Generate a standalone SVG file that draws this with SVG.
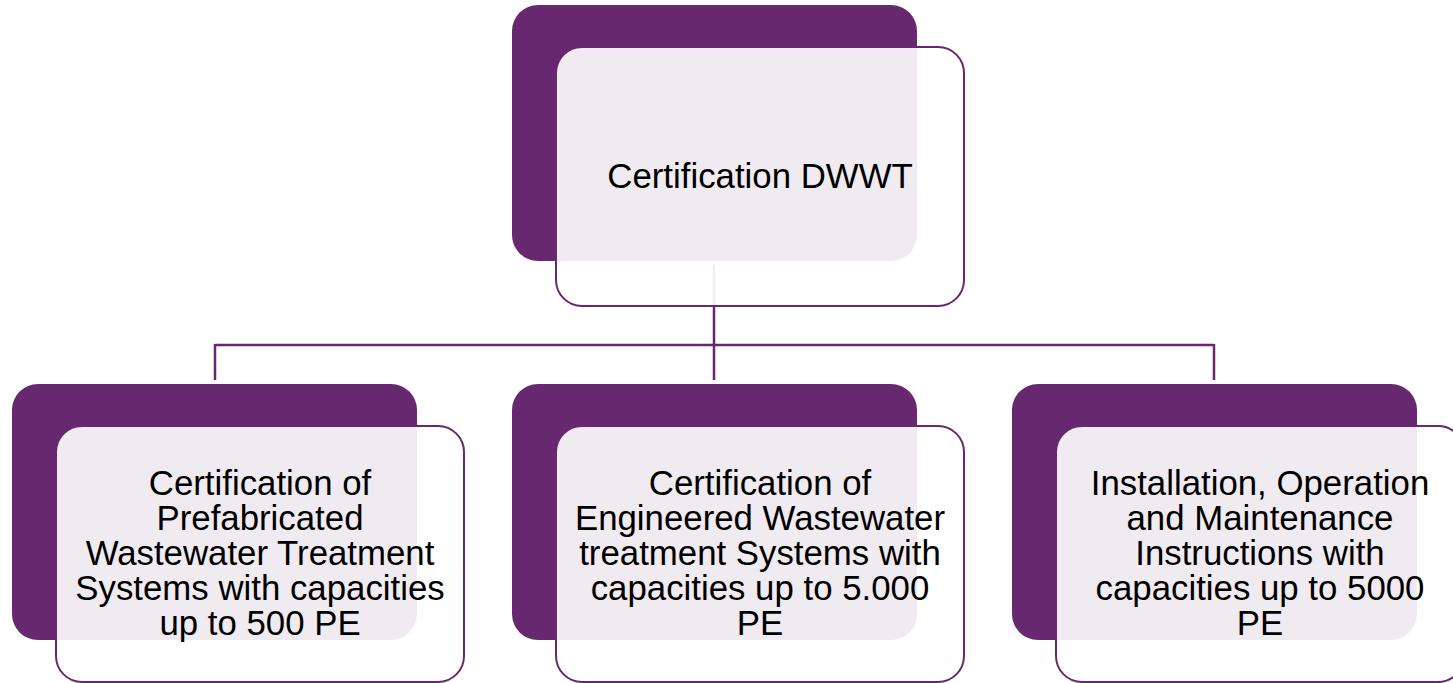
<svg xmlns="http://www.w3.org/2000/svg" width="1453" height="683" viewBox="0 0 1453 683">
<style>
.back{fill:#672870;}
.front{fill:#ffffff;fill-opacity:0.9;stroke:#672870;stroke-width:2;}
.conn{stroke:#672870;stroke-width:2.5;fill:none;}
.t{font-family:"Liberation Sans",Arial,sans-serif;font-size:34.8px;fill:#000;text-anchor:middle;}
</style>
<rect width="1453" height="683" fill="#ffffff"/>
<g id="connectors">
<path class="conn" d="M714,265 V380 M215,345 H1214 M215,344 V380 M1214,344 V380"/>
</g>
<g id="node-root">
<rect class="back" x="512" y="5" width="405" height="256" rx="26"/>
<rect class="front" x="556" y="47" width="408" height="259" rx="26"/>
<text class="t" x="760" y="188">Certification DWWT</text>
</g>
<g id="node-prefab">
<rect class="back" x="12" y="384" width="405" height="256" rx="26"/>
<rect class="front" x="56" y="426" width="408" height="256" rx="26"/>
<text class="t" x="260" y="495">Certification of</text>
<text class="t" x="260" y="530">Prefabricated</text>
<text class="t" x="260" y="565">Wastewater Treatment</text>
<text class="t" x="260" y="600">Systems with capacities</text>
<text class="t" x="260" y="635">up to 500 PE</text>
</g>
<g id="node-engineered">
<rect class="back" x="512" y="384" width="405" height="256" rx="26"/>
<rect class="front" x="556" y="426" width="408" height="256" rx="26"/>
<text class="t" x="760" y="495">Certification of</text>
<text class="t" x="760" y="530">Engineered Wastewater</text>
<text class="t" x="760" y="565">treatment Systems with</text>
<text class="t" x="760" y="600">capacities up to 5.000</text>
<text class="t" x="760" y="635">PE</text>
</g>
<g id="node-installation">
<rect class="back" x="1012" y="384" width="405" height="256" rx="26"/>
<rect class="front" x="1056" y="426" width="408" height="256" rx="26"/>
<text class="t" x="1260" y="495">Installation, Operation</text>
<text class="t" x="1260" y="530">and Maintenance</text>
<text class="t" x="1260" y="565">Instructions with</text>
<text class="t" x="1260" y="600">capacities up to 5000</text>
<text class="t" x="1260" y="635">PE</text>
</g>
</svg>
